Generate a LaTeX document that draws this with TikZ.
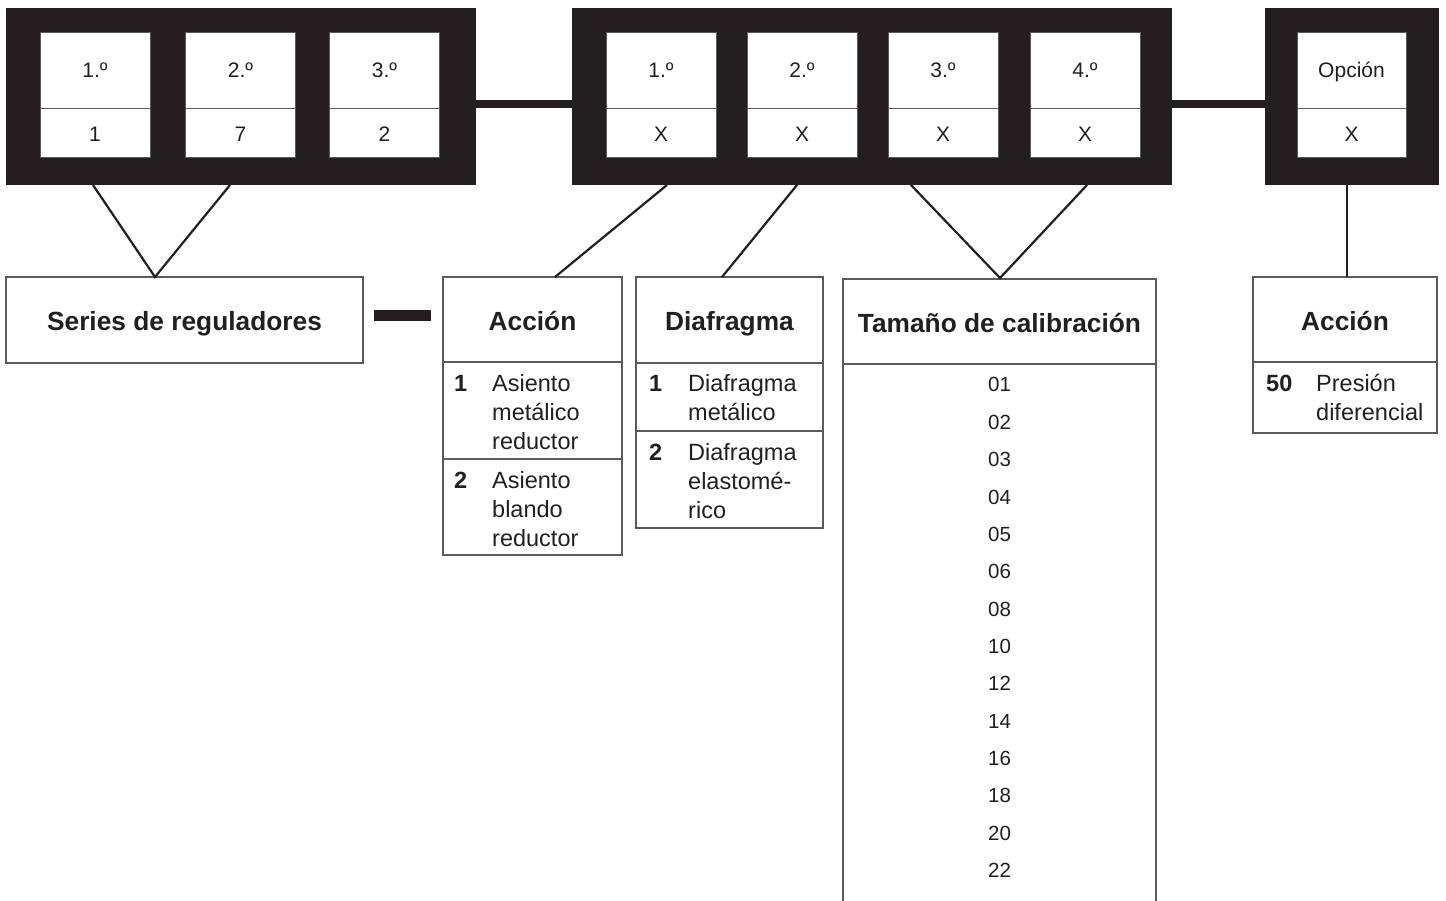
\documentclass[tikz,border=0pt]{standalone}
\usepackage{fontspec}
\setmainfont{Liberation Sans}
\definecolor{ink}{HTML}{231F20}
\definecolor{rulec}{HTML}{5A5A5C}
\begin{document}
\begin{tikzpicture}[x=1pt,y=-1pt,
  frm/.style={fill=ink,draw=none,inner sep=0pt,outer sep=0pt,minimum height=177pt},
  cellt/.style={fill=white,draw=rulec,line width=0.9pt,inner sep=0pt,minimum width=110pt,minimum height=76pt,
     text height=15pt,text depth=0pt,text=ink,font=\fontsize{21}{25}\selectfont},
  cellb/.style={cellt,minimum height=49pt,text height=18pt},
  bar/.style={ink,line width=8.5pt},
  box/.style={draw=rulec,line width=1.5pt,inner sep=0pt,outer sep=0pt},
  ttl/.style={box,text=ink,text height=21.5pt,text depth=0pt,font=\bfseries\fontsize{26.3}{30}\selectfont},
  conn/.style={ink,line width=2.2pt},
  bodyt/.style={anchor=base west,inner sep=0pt,text=ink,font=\fontsize{23.5}{29}\selectfont},
  numt/.style={anchor=base west,inner sep=0pt,text=ink,font=\bfseries\fontsize{23.5}{29}\selectfont},
  listt/.style={anchor=base,inner sep=0pt,text=ink,font=\fontsize{20.5}{24}\selectfont}]
\useasboundingbox (0,0) rectangle (1446,901);
\fill[white] (0,0) rectangle (1446,901);

% frames
\node[frm,minimum width=470pt] (f1) at (241,96.5) {};
\node[frm,minimum width=600pt] (f2) at (872,96.5) {};
\node[frm,minimum width=174pt] (f3) at (1352,96.5) {};

% cells frame 1
\node[cellt] (a1t) at (95,70) {1.º};
\node[cellb] (a1b) at (95,132.5) {1};
\node[cellt] (a2t) at (240.5,70) {2.º};
\node[cellb] (a2b) at (240.5,132.5) {7};
\node[cellt] (a3t) at (384.5,70) {3.º};
\node[cellb] (a3b) at (384.5,132.5) {2};
% cells frame 2
\node[cellt] (b1t) at (661,70) {1.º};
\node[cellb] (b1b) at (661,132.5) {X};
\node[cellt] (b2t) at (802,70) {2.º};
\node[cellb] (b2b) at (802,132.5) {X};
\node[cellt] (b3t) at (943,70) {3.º};
\node[cellb] (b3b) at (943,132.5) {X};
\node[cellt] (b4t) at (1085,70) {4.º};
\node[cellb] (b4b) at (1085,132.5) {X};
% cell frame 3
\node[cellt,minimum width=109pt] (c1t) at (1351.5,70) {Opción};
\node[cellb,minimum width=109pt] (c1b) at (1351.5,132.5) {X};

% bars between frames
\draw[bar] ([yshift=-7.5pt]f1.east) -- ([yshift=-7.5pt]f2.west);
\draw[bar] ([yshift=-7.5pt]f2.east) -- ([yshift=-7.5pt]f3.west);

% boxes
\node[ttl,minimum width=357pt,minimum height=86pt] (ser) at (184.5,320) {Series de reguladores};

\node[ttl,minimum width=179pt,minimum height=85pt] (acct) at (532.5,319.5) {Acción};
\node[box,minimum width=179pt,minimum height=97pt] (accr1) at (532.5,410.5) {};
\node[box,minimum width=179pt,minimum height=96pt] (accr2) at (532.5,507) {};

\node[ttl,minimum width=187pt,minimum height=86pt] (diat) at (729.5,320) {Diafragma};
\node[box,minimum width=187pt,minimum height=68pt] (diar1) at (729.5,397) {};
\node[box,minimum width=187pt,minimum height=97pt] (diar2) at (729.5,479.5) {};

\node[ttl,minimum width=313pt,minimum height=85pt] (tamt) at (999.5,321.5) {Tamaño de calibración};
\node[box,minimum width=313pt,minimum height=560pt] (tamb) at (999.5,644) {};

\node[ttl,minimum width=184pt,minimum height=85pt] (acc2t) at (1345,319.5) {Acción};
\node[box,minimum width=184pt,minimum height=71pt] (acc2r) at (1345,397.5) {};

% short dash between Series and Accion
\draw[ink,line width=10.5pt] ([xshift=11pt,yshift=4.5pt]ser.east) -- ([xshift=-12pt,yshift=4pt]acct.west);

% connector points
\coordinate (p1) at (93,185);
\coordinate (p2) at (230,185);
\coordinate (q1) at (155,277);
\coordinate (p3) at (667,185);
\coordinate (q3) at (555,277);
\coordinate (p4) at (797,185);
\coordinate (q4) at (722,277);
\coordinate (p5) at (911,185);
\coordinate (p6) at (1087,185);
\coordinate (q5) at (1000,278);
\coordinate (p7) at (1347,185);
\coordinate (q7) at (1347,277);

\draw[conn] (p1) -- (q1) -- (p2);
\draw[conn] (p3) -- (q3);
\draw[conn] (p4) -- (q4);
\draw[conn] (p5) -- (q5) -- (p6);
\draw[conn] (p7) -- (q7);

% Accion rows
\node[numt] (an1) at (454,391) {1};
\node[bodyt] (at1a) at (492,391) {Asiento};
\node[bodyt] (at1b) at (492,420) {metálico};
\node[bodyt] (at1c) at (492,449) {reductor};
\node[numt] (an2) at (454,488) {2};
\node[bodyt] (at2a) at (492,488) {Asiento};
\node[bodyt] (at2b) at (492,517) {blando};
\node[bodyt] (at2c) at (492,546) {reductor};

% Diafragma rows
\node[numt] (dn1) at (649,391) {1};
\node[bodyt] (dt1a) at (688,391) {Diafragma};
\node[bodyt] (dt1b) at (688,420) {metálico};
\node[numt] (dn2) at (649,460) {2};
\node[bodyt] (dt2a) at (688,460) {Diafragma};
\node[bodyt] (dt2b) at (688,489) {elastomé-};
\node[bodyt] (dt2c) at (688,518) {rico};

% Accion 2 row
\node[numt] (en1) at (1266,391) {50};
\node[bodyt] (et1a) at (1316,391) {Presión};
\node[bodyt] (et1b) at (1316,420) {diferencial};

% calibration list
\foreach \v/\yy [count=\i] in {01/384,02/421.5,03/459,04/496.5,05/534,06/571,08/608.5,10/646,12/683,14/720.5,16/758,18/795,20/832.5,22/870}{
  \node[listt] (l\i) at (999.5,\yy+7.8) {\v};
}
\end{tikzpicture}
\end{document}
